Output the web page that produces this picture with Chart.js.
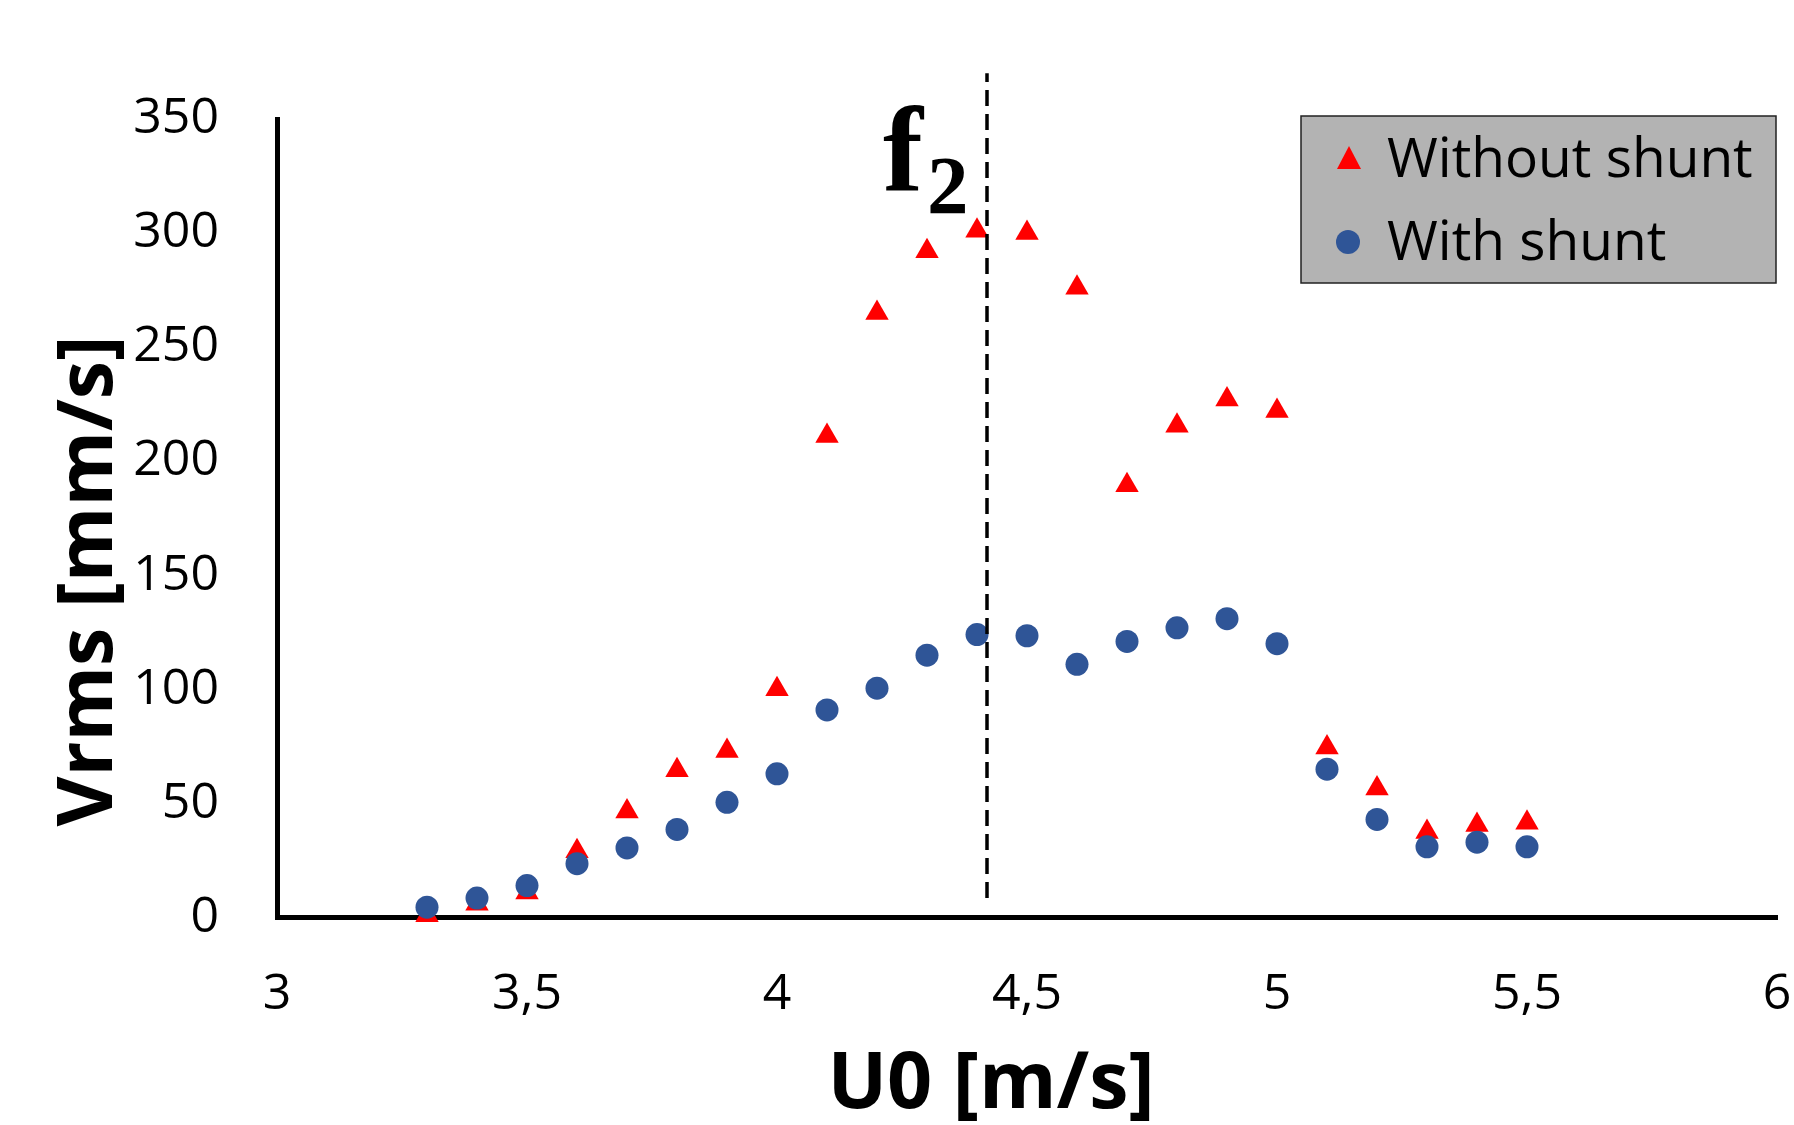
<!DOCTYPE html>
<html>
<head>
<meta charset="utf-8">
<script src="https://cdn.jsdelivr.net/npm/chart.js@4.4.1/dist/chart.umd.min.js"></script>
<style>
  html, body { margin: 0; padding: 0; background: #fff; }
  #wrap { width: 1794px; height: 1125px; }
</style>
</head>
<body>
<div id="wrap"><canvas id="chart" width="1794" height="1125"></canvas></div>
<script>
// flow speed U0 [m/s]
const speeds = [3.3, 3.4, 3.5, 3.6, 3.7, 3.8, 3.9, 4.0, 4.1, 4.2, 4.3, 4.4,
  4.5, 4.6, 4.7, 4.8, 4.9, 5.0, 5.1, 5.2, 5.3, 5.4, 5.5];
// Vrms [mm/s]
const withoutShunt = [1, 6, 11, 29, 46.5, 64.5, 73, 100, 211, 265, 292, 301,
  300, 276, 189.5, 215.5, 227, 222, 74.5, 56.5, 37.5, 40.5, 41.5];
const withShunt = [4.5, 8.5, 14, 23.6, 30.5, 38.6, 50.5, 63, 91, 100.5, 115, 124,
  123.5, 111, 121, 127, 131, 120, 65, 43, 31, 33, 31];

const xTickLabels = ['3', '3,5', '4', '4,5', '5', '5,5', '6'];
const yTickLabels = ['0', '50', '100', '150', '200', '250', '300', '350'];
const seriesNames = ['Without shunt', 'With shunt'];

// f2 marker line
const f2X = 4.42;
const f2Range = [8.5, 370];

const RED = '#FF0000';
const BLUE = '#2F5597';

const toPoints = (xs, ys) => xs.map((x, i) => ({ x: x, y: ys[i] }));

// legend box, f2 label and axis titles
const extras = {
  id: 'extras',
  afterDraw(chart) {
    const ctx = chart.ctx;
    const xs = chart.scales.x;
    ctx.save();

    // legend
    ctx.fillStyle = '#B3B3B3';
    ctx.fillRect(1301, 116, 475, 167);
    ctx.strokeStyle = '#222';
    ctx.lineWidth = 1.5;
    ctx.strokeRect(1301, 116, 475, 167);

    ctx.fillStyle = RED;
    ctx.beginPath();
    ctx.moveTo(1349, 146);
    ctx.lineTo(1361, 169);
    ctx.lineTo(1337, 169);
    ctx.closePath();
    ctx.fill();

    ctx.fillStyle = BLUE;
    ctx.beginPath();
    ctx.arc(1348, 242, 12, 0, Math.PI * 2);
    ctx.fill();

    ctx.fillStyle = '#000';
    ctx.font = '55px "Open Sans"';
    ctx.textAlign = 'left';
    ctx.textBaseline = 'alphabetic';
    ctx.fillText(seriesNames[0], 1387, 177);
    ctx.fillText(seriesNames[1], 1387, 260);

    // f2 label
    const lx = xs.getPixelForValue(f2X);
    ctx.font = 'bold 120px "Liberation Serif"';
    ctx.fillText('f', lx - 104, 190);
    ctx.font = 'bold 83px "Liberation Serif"';
    ctx.fillText('2', lx - 60, 213);

    // axis titles
    ctx.font = 'bold 79px "Open Sans"';
    ctx.textAlign = 'center';
    ctx.fillText('U0 [m/s]', 991, 1108);

    ctx.font = 'bold 77px "Open Sans"';
    ctx.translate(112, 581);
    ctx.rotate(-Math.PI / 2);
    ctx.fillText('Vrms [mm/s]', 0, 0);
    ctx.restore();
  }
};

const chart = new Chart(document.getElementById('chart'), {
  type: 'scatter',
  data: {
    datasets: [
      {
        label: 'f2',
        data: [{ x: f2X, y: f2Range[0] }, { x: f2X, y: f2Range[1] }],
        showLine: true,
        borderColor: '#000',
        borderWidth: 3.5,
        borderDash: [16, 8],
        pointRadius: 0,
        clip: false,
        order: 0
      },
      {
        label: seriesNames[1],
        data: toPoints(speeds, withShunt),
        pointStyle: 'circle',
        pointRadius: 11.5,
        backgroundColor: BLUE,
        borderWidth: 0,
        clip: false,
        order: 1
      },
      {
        label: seriesNames[0],
        data: toPoints(speeds, withoutShunt),
        pointStyle: 'triangle',
        pointRadius: 13.5,
        backgroundColor: RED,
        borderWidth: 0,
        clip: false,
        order: 2
      }
    ]
  },
  options: {
    responsive: false,
    animation: false,
    events: [],
    layout: { padding: { top: 119, right: 17, left: 0, bottom: 0 } },
    plugins: {
      legend: { display: false },
      tooltip: { enabled: false }
    },
    scales: {
      x: {
        type: 'linear',
        min: 3,
        max: 6,
        afterFit: scale => {
          scale.height = 207.5;
          scale.paddingLeft = 14;
          scale.paddingRight = 14;
        },
        grid: { display: false },
        border: { display: true, color: '#000', width: 5 },
        ticks: {
          stepSize: 0.5,
          padding: 44,
          color: '#000',
          font: { family: 'Open Sans', size: 50, lineHeight: 1 },
          callback: (v, i) => xTickLabels[i]
        }
      },
      y: {
        min: 0,
        max: 350,
        afterFit: scale => { scale.width = 277; },
        grid: { display: false },
        border: { display: true, color: '#000', width: 5 },
        ticks: {
          stepSize: 50,
          padding: 50,
          color: '#000',
          font: { family: 'Open Sans', size: 50 },
          callback: (v, i) => yTickLabels[i]
        }
      }
    }
  },
  plugins: [extras]
});
</script>
</body>
</html>
